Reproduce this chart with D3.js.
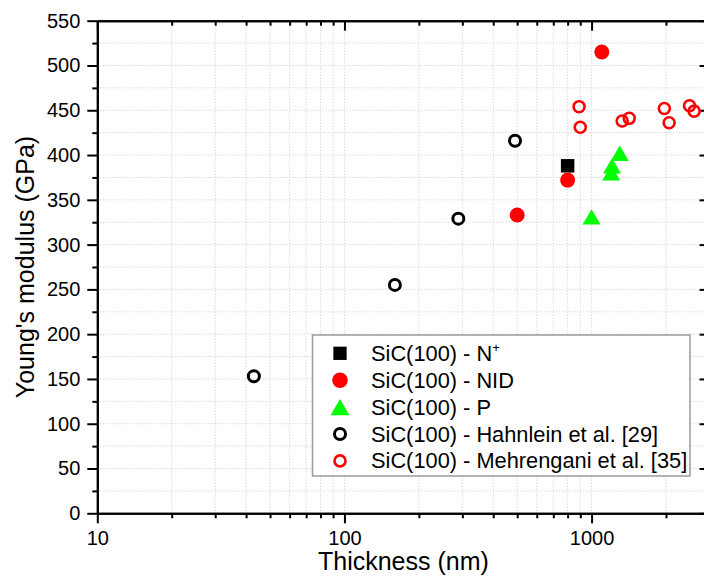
<!DOCTYPE html>
<html>
<head>
<meta charset="utf-8">
<script src="https://cdn.jsdelivr.net/npm/d3@7"></script>
<style>
  body { margin: 0; background: #fff; }
  svg text { font-family: "Liberation Sans", Arial, sans-serif; fill: #000; }
</style>
</head>
<body>
<div class="chart"></div>
<script>
// data
var nplusX = [800],
    nplusY = [388];
var nidX = [500, 800, 1100],
    nidY = [333, 372, 515];
var pX = [1000, 1200, 1210, 1300],
    pY = [331, 380, 388, 402];
var hahnX = [43, 160, 289, 490],
    hahnY = [153, 255, 329, 416];
var mehrX = [890, 900, 1330, 1420, 1970, 2060, 2490, 2600],
    mehrY = [454, 431, 438, 441, 452, 436, 455, 449];

var xMajor = [10, 100, 1000];
var yMajor = [0, 50, 100, 150, 200, 250, 300, 350, 400, 450, 500, 550];
var legendLabels = ["SiC(100) - N", "SiC(100) - NID", "SiC(100) - P",
                    "SiC(100) - Hahnlein et al. [29]", "SiC(100) - Mehrengani et al. [35]"];

var W = 704, H = 578;
var pLeft = 97.3, pTop = 20.7, pRight = 709.5, pBottom = 513.3;

var svg = d3.select("div.chart")
    .append("svg")
    .attr("width", W)
    .attr("height", H);

var x = d3.scaleLog().domain([10, 3000]).range([pLeft, pRight]);
var y = d3.scaleLinear().domain([0, 550]).range([pBottom, pTop]);

// minor ticks of the log axis
var xMinor = [];
[10, 100, 1000].forEach(function(d){
    for (var k = 2; k <= 9; k++) {
        if (d * k <= 3000) xMinor.push(d * k);
    }
});
var yMinor = d3.range(25, 550, 50);
var xAll = xMajor.concat(xMinor);
var yAll = d3.range(25, 550, 25);

// grid
var grid = svg.append("g").attr("class", "grid");
grid.selectAll("line.gx")
    .data(xAll.filter(function(d){ return d > 10; }))
    .enter()
    .append("line")
    .attr("class", "gx")
    .attr("x1", function(d){ return x(d); })
    .attr("x2", function(d){ return x(d); })
    .attr("y1", pTop)
    .attr("y2", pBottom)
    .attr("stroke", "#c8c8c8")
    .attr("stroke-width", 1)
    .attr("stroke-dasharray", "1,2");
grid.selectAll("line.gy")
    .data(yAll)
    .enter()
    .append("line")
    .attr("class", "gy")
    .attr("x1", pLeft)
    .attr("x2", pRight)
    .attr("y1", function(d){ return y(d); })
    .attr("y2", function(d){ return y(d); })
    .attr("stroke", "#c8c8c8")
    .attr("stroke-width", 1)
    .attr("stroke-dasharray", "1,2");

function styleAxis(g){
    g.select(".domain").attr("stroke", "#000").attr("stroke-width", 2);
    g.selectAll(".tick line").attr("stroke", "#000").attr("stroke-width", 2);
    g.selectAll(".tick text").style("font-size", "20px").attr("fill", "#000");
}

// bottom axis
svg.append("g")
    .attr("transform", "translate(0," + pBottom + ")")
    .call(d3.axisBottom(x).tickValues(xMinor).tickSize(5).tickFormat("").tickSizeOuter(0))
    .call(styleAxis);
svg.append("g")
    .attr("transform", "translate(0," + pBottom + ")")
    .call(d3.axisBottom(x).tickValues(xMajor).tickSize(10).tickPadding(8).tickFormat(d3.format("d")).tickSizeOuter(0))
    .call(styleAxis);
// top axis, ticks inward
svg.append("g")
    .attr("transform", "translate(0," + pTop + ")")
    .call(d3.axisBottom(x).tickValues(xMinor).tickSize(5).tickFormat("").tickSizeOuter(0))
    .call(styleAxis);
svg.append("g")
    .attr("transform", "translate(0," + pTop + ")")
    .call(d3.axisBottom(x).tickValues(xMajor).tickSize(10).tickFormat("").tickSizeOuter(0))
    .call(styleAxis);

// left axis
svg.append("g")
    .attr("transform", "translate(" + pLeft + ",0)")
    .call(d3.axisLeft(y).tickValues(yMinor).tickSize(5).tickFormat("").tickSizeOuter(0))
    .call(styleAxis);
svg.append("g")
    .attr("transform", "translate(" + pLeft + ",0)")
    .call(d3.axisLeft(y).tickValues(yMajor).tickSize(10).tickPadding(7).tickSizeOuter(0))
    .call(styleAxis);
// right axis, ticks inward
svg.append("g")
    .attr("transform", "translate(" + pRight + ",0)")
    .call(d3.axisLeft(y).tickValues(yMinor).tickSize(5).tickFormat("").tickSizeOuter(0))
    .call(styleAxis);
svg.append("g")
    .attr("transform", "translate(" + pRight + ",0)")
    .call(d3.axisLeft(y).tickValues(yMajor).tickSize(10).tickFormat("").tickSizeOuter(0))
    .call(styleAxis);

// axis titles
svg.append("text")
    .attr("x", (pLeft + pRight) / 2)
    .attr("y", 570)
    .attr("text-anchor", "middle")
    .style("font-size", "25px")
    .text("Thickness (nm)");
svg.append("text")
    .attr("transform", "translate(34," + ((pTop + pBottom) / 2) + ") rotate(-90)")
    .attr("text-anchor", "middle")
    .style("font-size", "25px")
    .text("Young's modulus (GPa)");

// triangle centred on its bounding box
var triBox = {
    draw: function(ctx, size){
        var w = Math.sqrt(size), h = w * 0.85;
        ctx.moveTo(0, -h / 2);
        ctx.lineTo(w / 2, h / 2);
        ctx.lineTo(-w / 2, h / 2);
        ctx.closePath();
    }
};

function zip(xs, ys){
    return xs.map(function(d, i){ return [d, ys[i]]; });
}

var pts = svg.append("g").attr("class", "points");

pts.selectAll("circle.hahn")
    .data(zip(hahnX, hahnY))
    .enter()
    .append("circle")
    .attr("class", "hahn")
    .attr("cx", function(d){ return x(d[0]); })
    .attr("cy", function(d){ return y(d[1]); })
    .attr("r", 5.5)
    .attr("fill", "none")
    .attr("stroke", "#000")
    .attr("stroke-width", 3);

pts.selectAll("circle.mehr")
    .data(zip(mehrX, mehrY))
    .enter()
    .append("circle")
    .attr("class", "mehr")
    .attr("cx", function(d){ return x(d[0]); })
    .attr("cy", function(d){ return y(d[1]); })
    .attr("r", 5.5)
    .attr("fill", "none")
    .attr("stroke", "#ff0000")
    .attr("stroke-width", 2.6);

pts.selectAll("path.nplus")
    .data(zip(nplusX, nplusY))
    .enter()
    .append("path")
    .attr("class", "nplus")
    .attr("d", d3.symbol().type(d3.symbolSquare).size(182))
    .attr("transform", function(d){ return "translate(" + x(d[0]) + "," + y(d[1]) + ")"; })
    .attr("fill", "#000");

pts.selectAll("circle.nid")
    .data(zip(nidX, nidY))
    .enter()
    .append("circle")
    .attr("class", "nid")
    .attr("cx", function(d){ return x(d[0]); })
    .attr("cy", function(d){ return y(d[1]); })
    .attr("r", 7.5)
    .attr("fill", "#ff0000");

pts.selectAll("path.p")
    .data(zip(pX, pY))
    .enter()
    .append("path")
    .attr("class", "p")
    .attr("d", d3.symbol().type(triBox).size(324))
    .attr("transform", function(d){ return "translate(" + x(d[0]) + "," + y(d[1]) + ")"; })
    .attr("fill", "#00ff00");

// legend
var lg = svg.append("g").attr("class", "legend");
lg.append("rect")
    .attr("x", 312.5)
    .attr("y", 335)
    .attr("width", 377.5)
    .attr("height", 141)
    .attr("fill", "#fff")
    .attr("stroke", "#9a9a9a")
    .attr("stroke-width", 1.5);

var rowY = function(i){ return 353.3 + i * 26.9; };
var symX = 340;

lg.append("path")
    .attr("d", d3.symbol().type(d3.symbolSquare).size(177))
    .attr("transform", "translate(" + symX + "," + rowY(0) + ")")
    .attr("fill", "#000");
lg.append("circle")
    .attr("cx", symX).attr("cy", rowY(1)).attr("r", 7.8)
    .attr("fill", "#ff0000");
lg.append("path")
    .attr("d", d3.symbol().type(triBox).size(361))
    .attr("transform", "translate(" + symX + "," + rowY(2) + ")")
    .attr("fill", "#00ff00");
lg.append("circle")
    .attr("cx", symX).attr("cy", rowY(3)).attr("r", 5.5)
    .attr("fill", "none").attr("stroke", "#000").attr("stroke-width", 3);
lg.append("circle")
    .attr("cx", symX).attr("cy", rowY(4)).attr("r", 5.5)
    .attr("fill", "none").attr("stroke", "#ff0000").attr("stroke-width", 2.6);

var lt = lg.selectAll("text")
    .data(legendLabels)
    .enter()
    .append("text")
    .attr("x", 371)
    .attr("y", function(d, i){ return rowY(i) + 7.5; })
    .style("font-size", "21.8px")
    .text(function(d){ return d; });
lt.filter(function(d, i){ return i === 0; })
    .append("tspan")
    .attr("dy", -9)
    .style("font-size", "13px")
    .text("+");
</script>
</body>
</html>
